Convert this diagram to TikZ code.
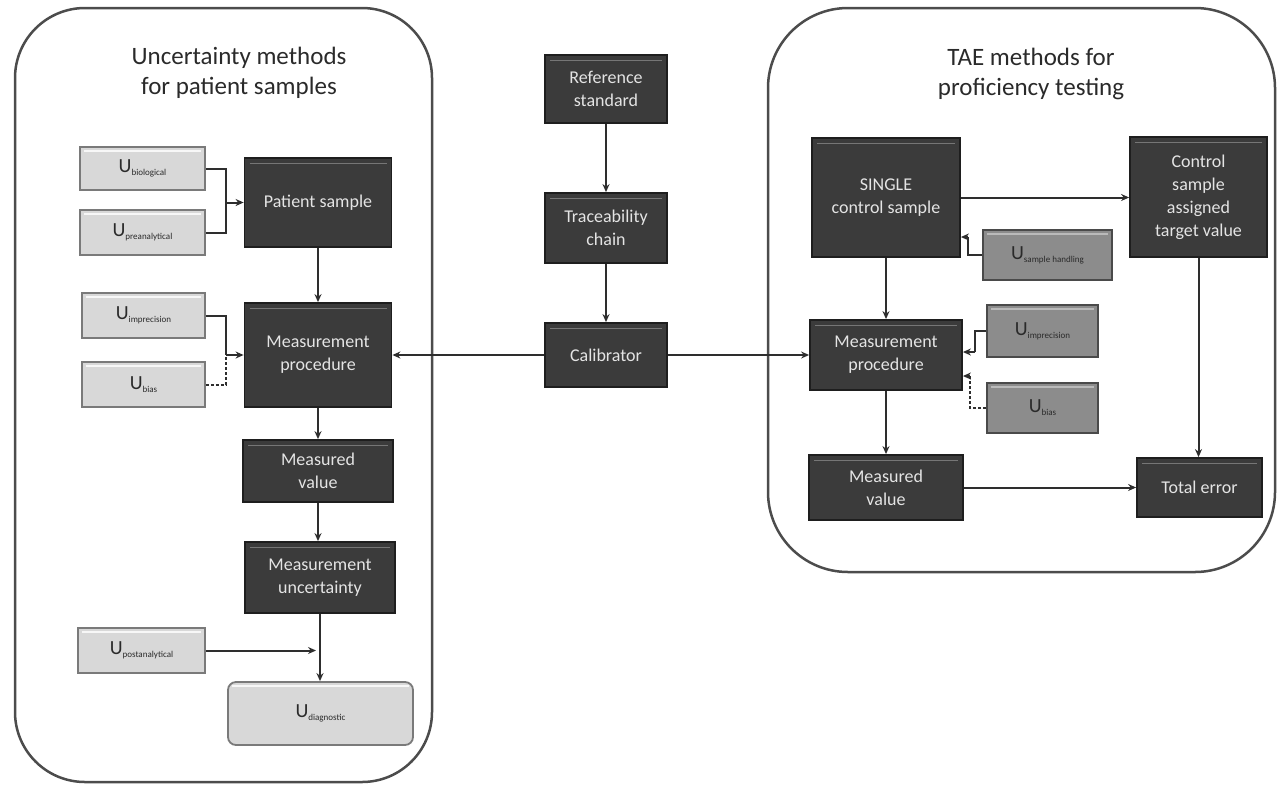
\documentclass[tikz,border=0pt]{standalone}
\usepackage{fontspec}
\setmainfont{Carlito}
\usetikzlibrary{arrows.meta,positioning}
\definecolor{darkbox}{HTML}{3B3B3B}
\definecolor{darkedge}{HTML}{1E1E1E}
\definecolor{lightbox}{HTML}{D8D8D8}
\definecolor{lightedge}{HTML}{7A7A7A}
\definecolor{midbox}{HTML}{8C8C8C}
\definecolor{midedge}{HTML}{4A4A4A}
\definecolor{linec}{HTML}{2E2E2E}
\definecolor{textl}{HTML}{E4E4E4}
\definecolor{textd}{HTML}{2A2A2A}
\newcommand{\usub}[1]{{\fontsize{20}{21}\selectfont U}\raisebox{-3pt}{\fontsize{9}{10}\selectfont #1}}
\tikzset{
  darknode/.style={draw=darkedge, fill=darkbox, line width=1.8pt, text=textl,
    font=\fontsize{18}{23}\selectfont, align=center, inner sep=2pt,
    path picture={\draw[darkbox!70!white,line width=0.8pt]
      ([xshift=5pt,yshift=-5pt]path picture bounding box.north west) --
      ([xshift=-5pt,yshift=-5pt]path picture bounding box.north east);}},
  lightnode/.style={draw=lightedge, fill=lightbox, line width=1.8pt, text=textd,
    align=center, inner sep=2pt,
    path picture={\draw[white!80!lightbox,line width=1.2pt]
      ([xshift=4pt,yshift=-4pt]path picture bounding box.north west) --
      ([xshift=-4pt,yshift=-4pt]path picture bounding box.north east);}},
  midnode/.style={draw=midedge, fill=midbox, line width=1.8pt, text=textd,
    align=center, inner sep=2pt,
    path picture={\draw[midbox!60!white,line width=1.2pt]
      ([xshift=4pt,yshift=-4pt]path picture bounding box.north west) --
      ([xshift=-4pt,yshift=-4pt]path picture bounding box.north east);}},
  panel/.style={draw=gray!60!black, line width=2.5pt, rounded corners=70pt},
  titletext/.style={text=textd, font=\fontsize{25}{30}\selectfont, align=center},
  conn/.style={draw=linec, line width=2pt},
  arr/.style={conn, -{Stealth[length=8pt,width=7pt]}},
  dconn/.style={conn, dash pattern=on 3pt off 2pt},
}
\begin{document}
\begin{tikzpicture}[x=1pt,y=-1pt]
\useasboundingbox (0,0) rectangle (1281,785);
% panels
\node[panel, minimum width=417pt, minimum height=774pt] (lpanel) at (223.5,395) {};
\node[panel, rounded corners=80pt, minimum width=507pt, minimum height=564pt] (rpanel) at (1021.5,290) {};
\node[titletext] (ltitle) at (239,73) {Uncertainty methods\\for patient samples};
\node[titletext] (rtitle) at (1031,74) {TAE methods for\\proficiency testing};

% left column
\node[lightnode, minimum width=125pt, minimum height=43pt] (ubio) at (142.5,168.5) {\usub{biological}};
\node[lightnode, minimum width=125pt, minimum height=45pt] (upre) at (142.5,232.5) {\usub{preanalytical}};
\node[darknode, minimum width=147pt, minimum height=89pt] (ps) at (318,202.5) {Patient sample};
\node[lightnode, minimum width=123pt, minimum height=45pt] (uimp) at (143.5,315.5) {\usub{imprecision}};
\node[lightnode, minimum width=123pt, minimum height=45pt] (ubias) at (143.5,384.5) {\usub{bias}};
\node[darknode, minimum width=147pt, minimum height=104pt] (mp) at (318,355) {Measurement\\procedure};
\node[darknode, minimum width=150pt, minimum height=62pt] (mv) at (318,471) {Measured\\value};
\node[darknode, minimum width=150pt, minimum height=71pt] (mu) at (320,577.5) {Measurement\\uncertainty};
\node[lightnode, minimum width=127pt, minimum height=45pt] (upost) at (141.5,650.5) {\usub{postanalytical}};
\node[lightnode, rounded corners=8pt, minimum width=185pt, minimum height=63pt] (udiag) at (320.5,713.5) {\usub{diagnostic}};

% center column
\node[darknode, minimum width=122pt, minimum height=68pt] (ref) at (606,89) {Reference\\standard};
\node[darknode, minimum width=122pt, minimum height=70pt] (tc) at (606,228) {Traceability\\chain};
\node[darknode, minimum width=122pt, minimum height=64pt] (cal) at (606,355) {Calibrator};

% right column
\node[darknode, minimum width=148pt, minimum height=119pt] (single) at (886,197.5) {SINGLE\\control sample};
\node[midnode, minimum width=129pt, minimum height=50pt] (ush) at (1047.5,255) {\usub{sample handling}};
\node[darknode, minimum width=137pt, minimum height=120pt] (ctrl) at (1198.5,197) {Control\\sample\\assigned\\target value};
\node[darknode, minimum width=152pt, minimum height=70pt] (mpr) at (886,355) {Measurement\\procedure};
\node[midnode, minimum width=111pt, minimum height=52pt] (uimpr) at (1042.5,331) {\usub{imprecision}};
\node[midnode, minimum width=111pt, minimum height=50pt] (ubiasr) at (1042.5,408) {\usub{bias}};
\node[darknode, minimum width=154pt, minimum height=65pt] (mvr) at (886,487.5) {Measured\\value};
\node[darknode, minimum width=125pt, minimum height=59pt] (te) at (1199.5,487.5) {Total error};

% junction coordinates
\coordinate (j1) at (226,202.5);
\coordinate (j2) at (226,355);
\coordinate (j3) at (968,237);
\coordinate (j4) at (975,352);
\coordinate (j5) at (970,376);
\coordinate (j6) at (mu.south |- upost.east);

% left connectors
\draw[conn] (ubio.east) -| (j1);
\draw[conn] (upre.east) -| (j1);
\draw[arr] (j1) -- (ps.west);
\draw[conn] (uimp.east) -| (j2);
\draw[dconn] (ubias.east) -| (j2);
\draw[arr] (j2) -- (mp.west);
\draw[arr] (ps.south) -- (mp.north);
\draw[arr] (mp.south) -- (mv.north);
\draw[arr] (mv.south) -- (mv.south |- mu.north);
\draw[arr] (mu.south) -- (mu.south |- udiag.north);
\draw[arr] (upost.east) -- ([xshift=-4pt]j6);

% center connectors
\draw[arr] (ref.south) -- (tc.north);
\draw[arr] (tc.south) -- (cal.north);
\draw[arr] (cal.west) -- (mp.east);
\draw[arr] (cal.east) -- (mpr.west);

% right connectors
\draw[arr] (single.east) -- (single.east -| ctrl.west);
\draw[arr] (single.south) -- (mpr.north);
\draw[conn] (ush.west) -| (j3);
\draw[arr] (j3) -- (j3 -| single.east);
\draw[conn] (uimpr.west) -| (j4);
\draw[arr] (j4) -- (j4 -| mpr.east);
\draw[dconn] (ubiasr.west) -| (j5);
\draw[dconn, -{Stealth[length=8pt,width=7pt]}] (j5) -- (j5 -| mpr.east);
\draw[arr] (mpr.south) -- (mvr.north);
\draw[arr] (ctrl.south) -- (ctrl.south |- te.north);
\draw[arr] (mvr.east) -- (mvr.east -| te.west);
\end{tikzpicture}
\end{document}
